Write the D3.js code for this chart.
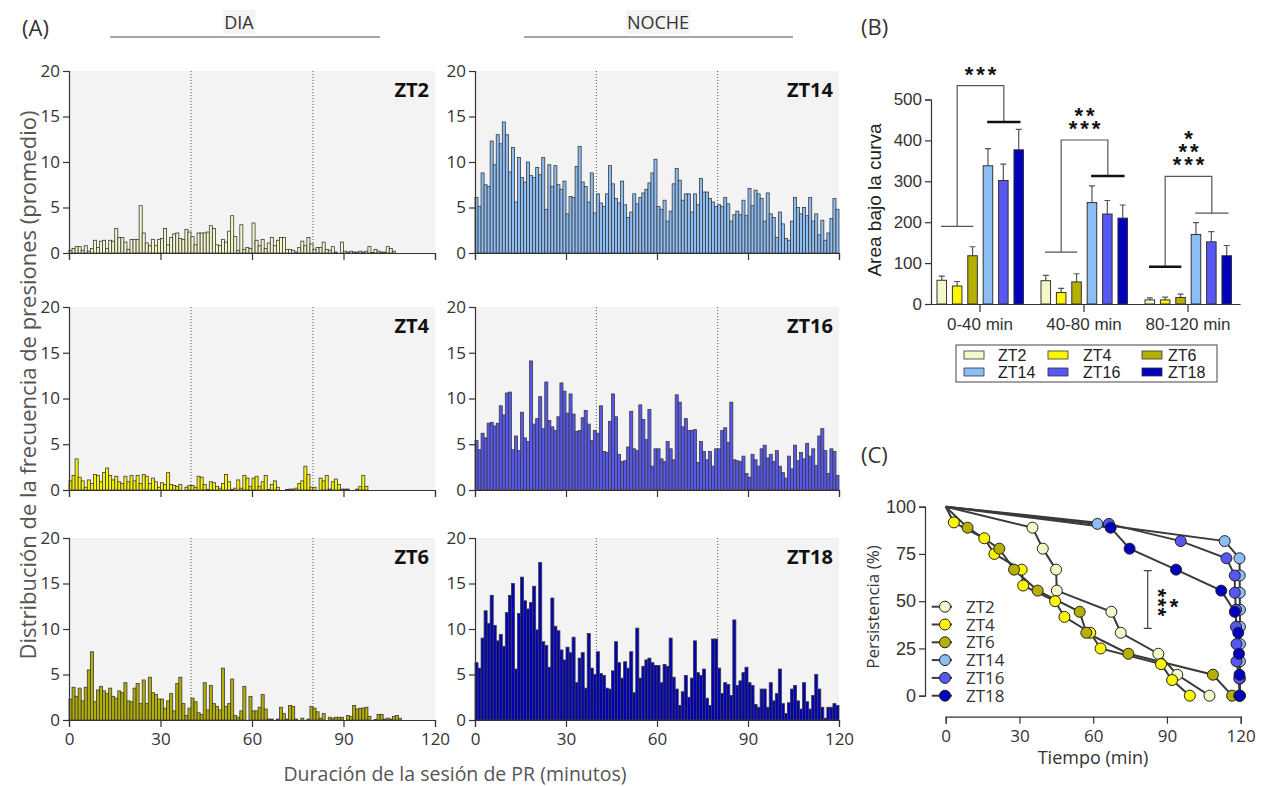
<!DOCTYPE html>
<html>
<head>
<meta charset="utf-8">
<script src="https://cdn.jsdelivr.net/npm/d3@7"></script>
<style>
body { margin: 0; background: #fff; }
svg { display: block; font-family: "Open Sans", sans-serif; }
</style>
</head>
<body>
<svg></svg>
<script>
var width = 1261;
var height = 786;

// ---- (A) mean lever-press frequency per 1-min bin
var binMinutes = d3.range(120);
var zt2 = [0.3,0.5,0.7,0.7,0.3,0.8,0.2,0.5,1.4,0.6, 1.3,1.4,0.5,1.4,1.3,2.7,1.7,1.7,1.2,0.4,
  1.5,1.5,1.5,5.2,2.2,1.1,0.8,1.5,0.8,1.5, 1.6,2.7,0.9,1.7,2.1,2.2,1.6,1.5,2.6,2.3,
  1.8,0.9,2.2,2.2,2.2,2.3,3.0,2.7,0.9,0.8, 1.5,1.2,2.4,4.1,1.8,0.3,3.1,0.4,0.6,0.5,
  3.3,1.4,0.8,1.5,0.5,1.1,1.7,0.8,1.4,1.7, 1.7,0.4,0.4,0.3,0.1,0.6,1.3,0.8,1.7,1.0,
  0.4,0.6,0.6,1.2,0.4,0.3,0.7,0.1,0,1.2, 0.2,0.1,0.2,0.1,0.1,0.2,0.1,0.2,0.7,0.05,
  0.4,0.2,0.1,0.1,0.7,0.5,0.2];
var zt4 = [1.0,1.6,3.4,1.4,1.0,0.3,1.1,0.7,1.7,1.6, 0.9,1.9,2.4,1.6,1.1,1.5,0.9,0.7,1.5,0.9,
  1.6,1.0,1.6,0.7,1.7,1.5,0.7,1.3,0.9,0.3, 0.8,0.6,1.9,0.6,0.5,0.4,0.6,0,0.3,0.5,
  0.5,0.3,1.5,1.4,0.6,0.05,0.9,0.8,0.4,0.2, 0.7,1.7,0.9,0.05,0.2,1.1,0.2,1.6,1.3,0.4,
  1.3,1.5,0.4,0.9,1.6,0.05,0.6,1.0,0.3,0, 0,0.05,0.1,0.1,0.2,0.7,1.0,2.6,1.7,0.3,
  0.3,0,1.3,1.0,1.6,0.1,0.9,1.2,0.6,0.1, 0.1,0.1,0,0,0.1,0.4,1.6,0.4];
var zt6 = [2.3,3.6,2.6,3.5,2.1,3.6,5.5,7.5,2.0,3.3, 3.7,3.2,2.9,3.5,2.6,2.4,3.2,3.0,4.1,2.1,
  2.0,3.5,4.0,1.8,4.4,1.8,4.7,3.0,2.8,2.3, 2.3,1.3,2.1,2.9,1.0,4.0,4.7,1.8,0.5,1.3,
  2.4,2.0,0.8,0.6,4.1,1.1,3.8,1.8,1.5,1.1, 5.7,1.5,1.8,4.5,0.5,0.3,1.0,3.7,0,2.6,
  1.0,1.0,1.4,2.8,1.2,0.1,0.1,0,0.1,1.4, 0.7,0.1,1.6,1.5,0.1,0,0.2,0,0.1,1.5,
  1.3,0.9,0.2,0.7,0,0.3,0.2,0.3,0.3,0.3, 0,0.5,0.4,1.6,1.2,1.3,1.3,1.4,0.4,0,
  0.05,0.6,0.6,0.1,0.2,0.1,0.4,0.5,0.2];
var zt14 = [6.1,5.1,8.8,7.5,7.3,12.3,9.7,13.0,12.0,14.4, 13.0,8.9,11.6,5.6,10.5,8.3,7.8,10.0,8.5,8.3,
  9.4,8.6,10.5,4.8,9.7,7.3,9.6,7.5,7.0,7.9, 4.3,6.2,6.1,9.5,11.7,7.8,7.3,5.6,8.8,4.4,
  6.5,5.5,5.1,6.5,9.6,7.6,6.0,5.5,7.9,5.3, 3.9,4.5,6.5,5.4,6.1,6.6,7.0,7.7,8.8,10.3,
  5.1,4.8,5.8,3.5,4.6,7.6,9.3,8.0,5.8,6.5, 6.5,4.5,6.5,5.3,8.2,6.7,6.7,6.0,5.6,5.1,
  5.3,5.1,6.1,5.4,3.5,4.2,4.6,4.2,5.8,4.1, 7.1,5.2,6.9,6.5,6.0,3.5,6.6,4.3,3.9,1.7,
  4.5,3.2,1.6,1.4,3.5,6.1,5.0,4.3,5.0,4.1, 6.1,3.5,4.3,2.0,3.6,1.4,2.2,3.8,6.0,4.8];
var zt16 = [5.4,4.4,6.2,5.7,7.3,7.4,7.0,7.3,9.2,8.2, 10.6,10.7,4.4,5.9,4.3,8.5,5.7,5.3,14.1,7.2,
  7.8,10.2,6.7,11.8,7.6,6.9,6.5,8.0,11.7,10.8, 8.4,10.5,8.3,6.4,6.5,7.9,8.7,7.2,5.4,6.5,
  6.2,9.2,4.2,4.1,7.5,10.5,8.0,3.9,3.1,3.2, 4.7,8.6,4.5,4.3,9.3,7.7,5.5,8.8,2.6,4.5,
  4.5,3.4,3.1,5.3,4.5,3.3,10.4,9.6,6.9,7.8, 6.5,6.5,6.6,3.0,5.3,4.2,3.3,4.2,2.6,4.5,
  4.5,6.5,6.8,5.2,9.6,3.3,3.2,3.1,3.7,1.8, 1.4,3.9,3.3,2.6,4.5,4.9,3.5,3.9,3.1,4.3,
  2.6,1.9,1.3,3.7,2.3,4.9,3.2,4.1,3.4,5.1, 3.7,4.5,2.7,5.9,6.7,4.3,1.8,4.5,4.2,1.6];
var zt18 = [6.3,5.7,9.0,12.0,10.6,13.7,10.4,8.7,9.4,8.1, 11.8,13.7,15.0,5.6,11.7,15.7,13.1,12.2,12.9,14.7,
  9.9,17.3,8.6,8.2,5.8,13.4,10.3,9.8,7.7,6.6, 8.0,7.4,9.1,4.1,6.8,7.4,3.5,9.5,5.7,5.0,
  7.5,5.1,4.9,3.5,3.4,5.4,8.6,6.3,4.6,6.4, 5.7,7.5,3.0,10.1,4.6,5.9,6.6,6.8,6.3,6.0,
  6.0,4.1,6.1,5.9,9.0,4.7,3.4,1.6,3.1,4.9, 2.5,4.6,8.7,5.2,4.9,5.6,2.4,1.6,8.9,8.9,
  5.7,2.9,4.1,3.9,2.7,11.0,3.8,4.3,5.2,5.8, 4.1,3.8,1.7,1.4,3.4,3.4,1.4,4.1,2.1,2.9,
  5.6,1.8,0.7,1.9,3.4,3.8,2.1,1.2,4.1,2.0, 1.2,2.7,5.0,3.4,1.4,0.2,1.4,1.4,1.8,1.6];

var seriesNames = ["ZT2", "ZT4", "ZT6", "ZT14", "ZT16", "ZT18"];
var seriesColors = ["#f4f8c8", "#fbf500", "#b5b000", "#8dbdf5", "#5757f2", "#0000bd"];

// ---- (B) area under the curve per interval (mean, SEM)
var intervals = ["0-40 min", "40-80 min", "80-120 min"];
var aucMean = [[58, 57, 10], [44, 28, 10], [118, 54, 16], [338, 248, 170], [302, 220, 152], [377, 210, 118]];
var aucErr = [[10, 13, 5], [11, 10, 7], [22, 20, 8], [42, 41, 29], [40, 33, 25], [50, 32, 25]];
var bracketDay = [190, 127, 91];
var bracketNight = [445, 313, 222];
var bracketTop = [534, 401, 312];
var boldSide = ["night", "night", "day"];
var starRows = [["***"], ["**", "***"], ["*", "**", "***"]];

// ---- (C) persistence (% of animals still responding)
var survZT2 = [[0,100],[35.3,88.9],[39.5,77.8],[44.9,66.7],[45.2,55.6],[67.4,44.4],[71.2,33.3],[86.5,22.2],[94.2,11.1],[107.3,0]];
var survZT4 = [[0,100],[3.3,91.7],[15.7,83.3],[19.8,75],[30.9,66.7],[31.5,58.3],[44.5,50],[48.3,41.7],[58.8,33.3],[63,25],[87.6,16.7],[92.1,8.3],[99.3,0]];
var survZT6 = [[0,100],[8.9,88.9],[21.8,77.8],[27.8,66.7],[37.4,55.6],[54.5,44.4],[57.2,33.3],[74.3,22.2],[108.7,11.1],[116.5,0]];
var survZT14 = [[0,100],[61.7,90.9],[113.5,81.8],[119.5,72.7],[119.6,63.6],[119.6,54.5],[119.7,45.5],[119.7,36.4],[119.7,27.3],[119.7,18.2],[119.7,9.1],[119.7,0]];
var survZT16 = [[0,100],[66.4,90.9],[95.6,81.8],[114.2,72.7],[117.6,63.6],[117.6,54.5],[118.1,45.5],[118.1,36.4],[118.3,27.3],[118.3,18.2],[119.4,9.1],[119.4,0]];
var survZT18 = [[0,100],[67.1,88.9],[74.8,77.8],[93.7,66.7],[112.1,55.6],[117.6,44.4],[119,33.3],[119.3,22.2],[119.5,11.1],[119.6,0]];

var svg = d3.select("svg")
  .attr("width", width)
  .attr("height", height);

var arial = "Arial, 'Liberation Sans', sans-serif";

function styleAxis(g, size, family) {
  g.attr("font-size", size).attr("font-family", family || null).attr("color", "#333");
  g.selectAll("path, line").attr("stroke", "#333").attr("stroke-width", 1.2);
}

// ================= (A) =================
var colX = [[69, 435], [475, 839]];
var rowY = [[253, 71], [490, 307], [720, 538]];
var panels = [
  {data: zt2, s: 0, col: 0, row: 0}, {data: zt14, s: 3, col: 1, row: 0},
  {data: zt4, s: 1, col: 0, row: 1}, {data: zt16, s: 4, col: 1, row: 1},
  {data: zt6, s: 2, col: 0, row: 2}, {data: zt18, s: 5, col: 1, row: 2}
];

panels.forEach(function(p) {
  var x = d3.scaleLinear().domain([0, 120]).range(colX[p.col]);
  var y = d3.scaleLinear().domain([0, 20]).range(rowY[p.row]);
  var g = svg.append("g");

  g.append("rect")
    .attr("x", x(0)).attr("y", y(20))
    .attr("width", x(120) - x(0)).attr("height", y(0) - y(20))
    .attr("fill", "#f3f3f3");

  g.selectAll(".vline").data([40, 80]).enter().append("line")
    .attr("x1", function(d) { return x(d); }).attr("x2", function(d) { return x(d); })
    .attr("y1", y(20)).attr("y2", y(0))
    .attr("stroke", "#555").attr("stroke-width", 1).attr("stroke-dasharray", "1,2");

  var bw = x(1) - x(0);
  var bins = p.data.map(function(v, i) { return {m: binMinutes[i], v: v}; })
    .filter(function(d) { return d.v > 0; });

  g.selectAll(".bar").data(bins).enter().append("rect")
    .attr("class", "bar")
    .attr("x", function(d) { return x(d.m); })
    .attr("y", function(d) { return y(d.v); })
    .attr("width", bw)
    .attr("height", function(d) { return y(0) - y(d.v); })
    .attr("fill", seriesColors[p.s])
    .attr("stroke", "#3a3a3a")
    .attr("stroke-width", 0.8);

  var ya = d3.axisLeft(y).tickValues([0, 5, 10, 15, 20]).tickSize(6).tickPadding(3);
  g.append("g").attr("transform", "translate(" + x(0) + ",0)").call(ya).call(styleAxis, 17);

  var xa = d3.axisBottom(x).tickValues([0, 30, 60, 90, 120]).tickSize(7).tickPadding(6);
  if (p.row < 2) xa.tickFormat("");
  g.append("g").attr("transform", "translate(0," + y(0) + ")").call(xa).call(styleAxis, 17);

  g.append("text")
    .attr("x", x(120) - 6).attr("y", y(20) + 26)
    .attr("text-anchor", "end")
    .attr("font-size", 20).attr("font-weight", "bold").attr("fill", "#111")
    .text(seriesNames[p.s]);
});

svg.append("text").attr("x", 22).attr("y", 36).attr("font-size", 22).attr("fill", "#333").text("(A)");

[{t: "DIA", c: 239, x1: 110, x2: 380}, {t: "NOCHE", c: 658, x1: 524, x2: 793}].forEach(function(h) {
  var hg = svg.append("g");
  var bg = hg.append("rect").attr("fill", "#f4f4f4");
  var txt = hg.append("text").attr("x", h.c).attr("y", 29)
    .attr("text-anchor", "middle").attr("font-size", 18).attr("fill", "#333").text(h.t);
  var bb = txt.node().getBBox();
  bg.attr("x", bb.x - 1).attr("y", bb.y).attr("width", bb.width + 2).attr("height", bb.height);
  hg.append("line").attr("x1", h.x1).attr("x2", h.x2).attr("y1", 37).attr("y2", 37)
    .attr("stroke", "#888").attr("stroke-width", 1.5);
});

svg.append("text")
  .attr("transform", "translate(36,385) rotate(-90)")
  .attr("text-anchor", "middle").attr("font-size", 22).attr("fill", "#555")
  .text("Distribución de la frecuencia de presiones (promedio)");

svg.append("text")
  .attr("x", 455).attr("y", 781)
  .attr("text-anchor", "middle").attr("font-size", 19.5).attr("fill", "#555")
  .text("Duración de la sesión de PR (minutos)");

// ================= (B) =================
var yB = d3.scaleLinear().domain([0, 500]).range([304, 99.5]);
var xB = d3.scaleBand().domain(intervals).range([928, 1240]);
var xIn = d3.scaleBand().domain(seriesNames).range([-43, 43.5]).paddingInner(0.38);
var ibw = xIn.bandwidth();
var gB = svg.append("g");

intervals.forEach(function(iv, k) {
  var cx = xB(iv) + xB.bandwidth() / 2;
  var g = gB.append("g").attr("transform", "translate(" + cx + ",0)");
  var rows = seriesNames.map(function(s, i) {
    return {s: s, i: i, m: aucMean[i][k], e: aucErr[i][k]};
  });

  g.selectAll(".err").data(rows).enter().append("path")
    .attr("d", function(d) {
      var c = xIn(d.s) + ibw / 2;
      return "M" + c + "," + yB(d.m) + "V" + yB(d.m + d.e) + "M" + (c - 3) + "," + yB(d.m + d.e) + "H" + (c + 3);
    })
    .attr("stroke", "#555").attr("stroke-width", 1.2).attr("fill", "none");

  g.selectAll(".bbar").data(rows).enter().append("rect")
    .attr("x", function(d) { return xIn(d.s); })
    .attr("y", function(d) { return yB(d.m); })
    .attr("width", ibw)
    .attr("height", function(d) { return yB(0) - yB(d.m); })
    .attr("fill", function(d) { return seriesColors[d.i]; })
    .attr("stroke", "#333").attr("stroke-width", 1);

  var d1 = xIn("ZT2") + 4, d2 = xIn("ZT6") + ibw - 4;
  var n1 = xIn("ZT14") + 4, n2 = xIn("ZT18") + ibw - 3;
  var dc = (d1 + d2) / 2, nc = (n1 + n2) / 2;
  g.append("path")
    .attr("d", "M" + dc + "," + yB(bracketDay[k]) + "V" + yB(bracketTop[k]) + "H" + nc + "V" + yB(bracketNight[k]))
    .attr("stroke", "#555").attr("stroke-width", 1.2).attr("fill", "none");
  [["day", d1, d2, bracketDay[k]], ["night", n1, n2, bracketNight[k]]].forEach(function(l) {
    var bold = boldSide[k] === l[0];
    g.append("line").attr("x1", l[1]).attr("x2", l[2])
      .attr("y1", yB(l[3])).attr("y2", yB(l[3]))
      .attr("stroke", bold ? "#111" : "#555").attr("stroke-width", bold ? 2.6 : 1.2);
  });

  // stacked significance stars, one text element
  var nRows = starRows[k].length;
  var st = g.append("text")
    .attr("text-anchor", "middle").attr("font-family", arial)
    .attr("font-size", 22).attr("font-weight", "bold").attr("letter-spacing", 3).attr("fill", "#111");
  starRows[k].forEach(function(s, j) {
    st.append("tspan")
      .attr("x", 2)
      .attr("y", yB(bracketTop[k]) - 13 * (nRows - j) + 9)
      .text(s);
  });
});

gB.append("g").attr("transform", "translate(931,0)")
  .call(d3.axisLeft(yB).tickValues([0, 100, 200, 300, 400, 500]).tickSize(6).tickPadding(3))
  .call(styleAxis, 17, arial);
gB.append("g").attr("transform", "translate(0,304)")
  .call(d3.axisBottom(xB).tickSize(8).tickPadding(6).tickSizeOuter(0))
  .call(styleAxis, 17, arial);

gB.append("text")
  .attr("transform", "translate(881,200) rotate(-90)")
  .attr("text-anchor", "middle").attr("font-family", arial).attr("font-size", 19).attr("fill", "#222")
  .text("Area bajo la curva");

svg.append("text").attr("x", 861).attr("y", 35).attr("font-size", 22).attr("fill", "#333").text("(B)");

// legend B
var legB = svg.append("g");
legB.append("rect").attr("x", 956).attr("y", 345).attr("width", 261).attr("height", 37)
  .attr("fill", "#fff").attr("stroke", "#444").attr("stroke-width", 1);
var legCols = [964, 1048, 1142];
var legText = [998, 1083, 1168];
seriesNames.forEach(function(s, i) {
  var c = i % 3, r = Math.floor(i / 3);
  var cy = 355 + r * 17;
  legB.append("rect").attr("x", legCols[c]).attr("y", cy - 4).attr("width", 20).attr("height", 8)
    .attr("fill", seriesColors[i]).attr("stroke", "#333").attr("stroke-width", 0.8);
  legB.append("text").attr("x", legText[c]).attr("y", cy + 6)
    .attr("font-family", arial).attr("font-size", 16).attr("fill", "#222").text(s);
});

// ================= (C) =================
var xC = d3.scaleLinear().domain([0, 120]).range([945.7, 1240.7]);
var yC = d3.scaleLinear().domain([0, 100]).range([695.7, 506.7]);
var survAll = [survZT2, survZT4, survZT6, survZT14, survZT16, survZT18];
var gC = svg.append("g");

gC.append("g").attr("transform", "translate(925,0)")
  .call(d3.axisLeft(yC).tickValues([0, 25, 50, 75, 100]).tickSize(6).tickPadding(3))
  .call(styleAxis, 18, arial);
gC.append("g").attr("transform", "translate(0,716.7)")
  .call(d3.axisBottom(xC).tickValues([0, 30, 60, 90, 120]).tickSize(7).tickPadding(6))
  .call(styleAxis, 17);

var lineC = d3.line().x(function(d) { return xC(d[0]); }).y(function(d) { return yC(d[1]); });
survAll.forEach(function(sv, i) {
  gC.append("path").datum(sv).attr("d", lineC)
    .attr("fill", "none").attr("stroke", "#3a3a3a").attr("stroke-width", 2);
});
survAll.forEach(function(sv, i) {
  gC.selectAll(".pt" + i).data(sv.slice(1)).enter().append("circle")
    .attr("cx", function(d) { return xC(d[0]); })
    .attr("cy", function(d) { return yC(d[1]); })
    .attr("r", 5.5)
    .attr("fill", seriesColors[i]).attr("stroke", "#222").attr("stroke-width", 1);
});

// significance marks
gC.append("path").attr("d", "M1143.7,570.7H1151.7M1147.7,570.7V628.3M1143.7,628.3H1151.7")
  .attr("stroke", "#444").attr("stroke-width", 1.2).attr("fill", "none");
gC.append("text").attr("transform", "translate(1151,603) rotate(90)")
  .attr("text-anchor", "middle").attr("font-family", arial).attr("font-size", 22).attr("font-weight", "bold")
  .attr("letter-spacing", 1).attr("fill", "#111").text("***");
gC.append("text").attr("x", 1174).attr("y", 614)
  .attr("text-anchor", "middle").attr("font-family", arial).attr("font-size", 22).attr("font-weight", "bold")
  .attr("fill", "#111").text("*");

// legend C
seriesNames.forEach(function(s, i) {
  var cy = 606.7 + i * 17.8;
  gC.append("line").attr("x1", 931.7).attr("x2", 952).attr("y1", cy).attr("y2", cy)
    .attr("stroke", "#3a3a3a").attr("stroke-width", 2);
  gC.append("circle").attr("cx", 945).attr("cy", cy).attr("r", 5.5)
    .attr("fill", seriesColors[i]).attr("stroke", "#222").attr("stroke-width", 1);
  gC.append("text").attr("x", 966).attr("y", cy + 6)
    .attr("font-size", 17).attr("fill", "#333").text(s);
});

gC.append("text")
  .attr("transform", "translate(879,607) rotate(-90)")
  .attr("text-anchor", "middle").attr("font-size", 17).attr("fill", "#333")
  .text("Persistencia (%)");
gC.append("text").attr("x", 1093).attr("y", 764)
  .attr("text-anchor", "middle").attr("font-size", 18).attr("fill", "#333")
  .text("Tiempo (min)");

svg.append("text").attr("x", 861).attr("y", 463).attr("font-size", 22).attr("fill", "#333").text("(C)");
</script>
</body>
</html>
